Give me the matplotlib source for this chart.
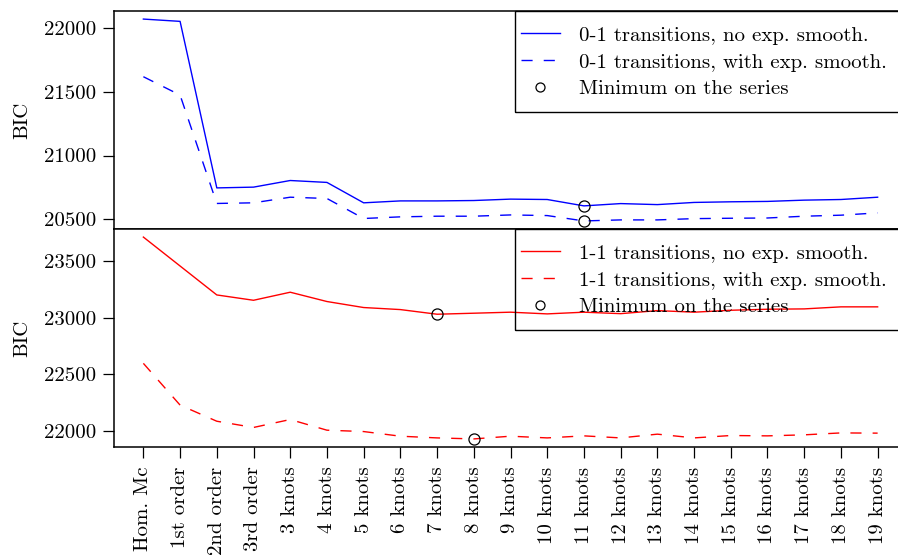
import matplotlib
matplotlib.use('Agg')
import matplotlib.pyplot as plt
from matplotlib.lines import Line2D
from matplotlib.patches import Rectangle

categories = ["Hom. Mc", "1st order", "2nd order", "3rd order",
              "3 knots", "4 knots", "5 knots", "6 knots", "7 knots", "8 knots",
              "9 knots", "10 knots", "11 knots", "12 knots", "13 knots", "14 knots",
              "15 knots", "16 knots", "17 knots", "18 knots", "19 knots"]

bic_01_no = [22070, 22052, 20746, 20752, 20804, 20789, 20629, 20644, 20644, 20647,
             20658, 20655, 20605, 20623, 20615, 20632, 20637, 20640, 20650, 20655, 20673]
bic_01_exp = [21618, 21474, 20624, 20629, 20673, 20663, 20506, 20519, 20524, 20524,
              20534, 20529, 20487, 20495, 20495, 20505, 20508, 20510, 20524, 20532, 20550]
bic_11_no = [23710, 23455, 23200, 23153, 23224, 23142, 23089, 23071, 23030, 23039,
             23048, 23033, 23048, 23035, 23062, 23048, 23065, 23074, 23077, 23095, 23095]
bic_11_exp = [22597, 22229, 22087, 22032, 22102, 22008, 21996, 21955, 21940, 21931,
              21955, 21940, 21958, 21940, 21973, 21940, 21961, 21958, 21967, 21984, 21982]

yticks_top = [20500, 21000, 21500, 22000]
yticks_bot = [22000, 22500, 23000, 23500]

labels_top = ["0-1 transitions, no exp. smooth.", "0-1 transitions, with exp. smooth.",
              "Minimum on the series"]
labels_bot = ["1-1 transitions, no exp. smooth.", "1-1 transitions, with exp. smooth.",
              "Minimum on the series"]

plt.rcParams['font.family'] = ['cmr10', 'DejaVu Serif']
plt.rcParams['axes.formatter.use_mathtext'] = True
plt.rcParams['mathtext.fontset'] = 'cm'
plt.rcParams['lines.scale_dashes'] = False

FS = 15
fig = plt.figure(figsize=(8.98, 5.55), dpi=100)
W, H = 898, 555
AX_L, AX_R = 114, 907
left = AX_L / W
right = AX_R / W
ax1 = fig.add_axes([left, (H - 229) / H, right - left, (229 - 11) / H])
ax2 = fig.add_axes([left, (H - 447) / H, right - left, (447 - 229) / H])

x = list(range(len(categories)))
dash = (0, (8, 8))
AX_W, AX_H = AX_R - AX_L, 218

def panel(ax, s_no, s_exp, color, yt, labels):
    ax.plot(x, s_no, color=color, lw=1.0)
    ax.plot(x, s_exp, color=color, lw=1.0, ls=dash)
    for s in (s_no, s_exp):
        i = s.index(min(s))
        ax.plot([x[i]], [s[i]], marker='o', ms=8, mfc='none', mec='black', mew=0.9, ls='none')
    lo = min(min(s_no), min(s_exp)); hi = max(max(s_no), max(s_exp))
    pad = 0.04 * (hi - lo)
    ax.set_ylim(lo - pad, hi + pad)
    ax.set_xlim(-0.8, len(categories) - 1 + 0.8)
    ax.set_yticks(yt, labels=[str(v) for v in yt])
    ax.tick_params(axis='y', direction='out', length=8, width=0.9, labelsize=FS, pad=5)
    ax.set_ylabel("BIC", fontsize=FS, labelpad=9)
    for sp in ax.spines.values():
        sp.set_linewidth(1.1)
    handles = [Line2D([], [], color=color, lw=1.0),
               Line2D([], [], color=color, lw=1.0, ls=dash),
               Line2D([], [], marker='o', ms=6.5, mfc='none', mec='black', mew=0.9, ls='none')]
    # legend box (frame) drawn separately
    bx0 = (515 - AX_L) / AX_W
    bh = 101 / AX_H
    ax.add_patch(Rectangle((bx0, 1 - bh), 1.2, bh, transform=ax.transAxes,
                           fill=False, edgecolor='black', lw=1.0, clip_on=False, zorder=5))
    ax.legend(handles, labels, loc='upper left', frameon=False, fontsize=FS,
              bbox_to_anchor=((521 - AX_L) / AX_W, 1 - 15 / AX_H),
              borderpad=0, borderaxespad=0, handlelength=1.85,
              handletextpad=0.95, labelspacing=0.4)

panel(ax1, bic_01_no, bic_01_exp, 'blue', yticks_top, labels_top)
panel(ax2, bic_11_no, bic_11_exp, 'red', yticks_bot, labels_bot)

ax1.tick_params(axis='x', bottom=False, labelbottom=False)
ax2.set_xticks(x, labels=categories, rotation=90)
ax2.tick_params(axis='x', direction='out', length=8, width=0.9, labelsize=FS, pad=6)

fig.savefig('out.png', dpi=100)
